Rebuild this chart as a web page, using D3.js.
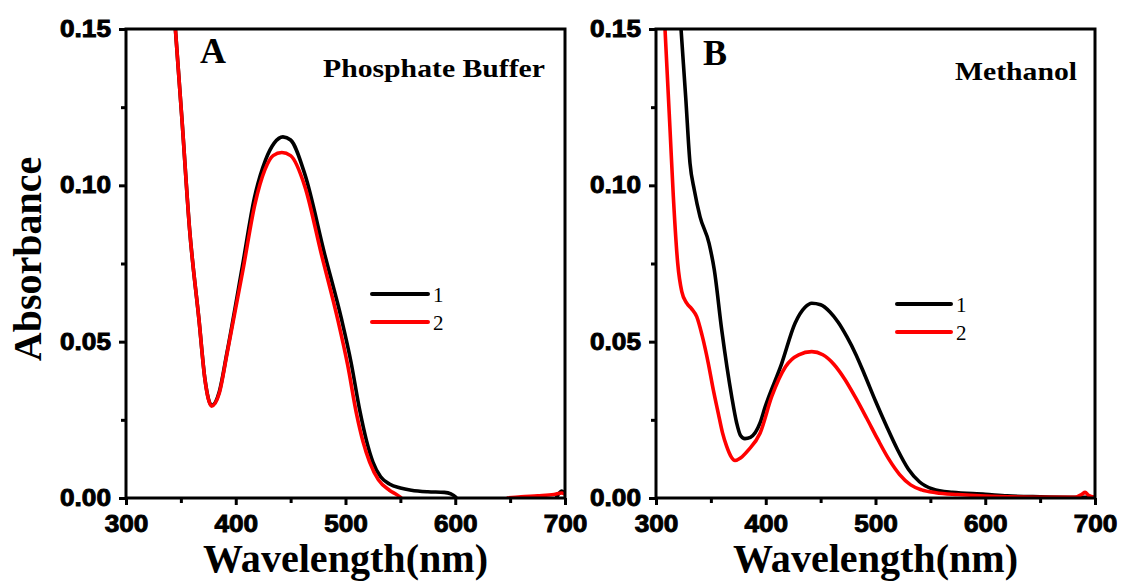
<!DOCTYPE html>
<html><head><meta charset="utf-8">
<script src="https://cdn.jsdelivr.net/npm/d3@7"></script>
<style>body{margin:0;background:#fff}svg{display:block}</style>
</head><body>
<svg id="chart" width="1122" height="583"></svg>
<script>
// ---- data ----
const panelLabels = ["A", "B"];
const solventLabels = ["Phosphate Buffer", "Methanol"];
const seriesNames = ["1", "2"];
const seriesColors = ["#000000", "#ff0000"];
const xTicks = [300, 400, 500, 600, 700];
const xMinorTicks = [350, 450, 550, 650];
const yTicks = [0.00, 0.05, 0.10, 0.15];
const yMinorTicks = [0.025, 0.075, 0.125];

// Panel A, curve 1 (black)
const aWl1 = [342,345,351,358,366.5,372,378,385,392,406,417,427,435,443,450,463,481,496.5,505,513,519,525,532,540,550,560,575,590,596,600,601,null,692,697,700];
const aAbs1 = [0.165,0.150,0.121,0.0857,0.057,0.0378,0.0296,0.034,0.0465,0.074,0.096,0.108,0.1135,0.1155,0.1145,0.1035,0.078,0.057,0.0435,0.028,0.0185,0.0115,0.0068,0.0045,0.0032,0.0025,0.002,0.0018,0.0013,0.0004,0,null,0,0.0022,0.0015];
// Panel A, curve 2 (red)
const aWl2 = [342,345,351,358,366.5,372,378,385,392,406.6,417.5,426.6,434,442,450,463,478,493,502,510,516,522,530,540,547,551,null,647,660,675,690,697,700];
const aAbs2 = [0.165,0.150,0.121,0.0857,0.057,0.0377,0.0294,0.0335,0.046,0.073,0.094,0.105,0.1095,0.1105,0.1095,0.0996,0.078,0.057,0.0425,0.027,0.018,0.0115,0.0058,0.0025,0.001,0,null,0,0.0004,0.0007,0.0011,0.0016,0.0012];
// Panel B, curve 1 (black)
const bWl1 = [320,322.8,327.1,331,334.9,340.1,348.3,353.1,359.9,369,373.5,377,381,386,394.8,399.3,414.5,426.7,435.8,441.9,450,458.5,466,474,482,490,500,510,520,530,540,552,570,600,620,650,700];
const bAbs1 = [0.165,0.150,0.128,0.107,0.0985,0.090,0.0815,0.073,0.0537,0.0324,0.024,0.020,0.019,0.0194,0.024,0.029,0.043,0.0559,0.061,0.0623,0.0618,0.0595,0.0562,0.0515,0.046,0.0395,0.031,0.023,0.0155,0.0092,0.0052,0.0029,0.0018,0.0012,0.0007,0.0004,0.0002];
// Panel B, curve 2 (red)
const bWl2 = [306,308.2,312.8,315.8,319.8,323.5,328,332.5,337.1,342,347.7,352,356.8,360.5,364.4,368,372,377,384.1,394.8,405.4,418,430,441.9,452,462,472,482,492,502,512,522,532,542,555,575,600,630,660,682,688,691,694,700];
const bAbs2 = [0.165,0.150,0.1177,0.0964,0.075,0.066,0.0623,0.0605,0.058,0.052,0.043,0.035,0.027,0.021,0.0165,0.0135,0.012,0.0128,0.0153,0.0207,0.0324,0.042,0.0458,0.0468,0.0458,0.0428,0.038,0.032,0.0255,0.0188,0.0125,0.0075,0.0042,0.0026,0.0017,0.0011,0.0006,0.0003,0.0002,0.0002,0.0012,0.0018,0.0009,0.0002];

const panels = [
  {wl: [aWl1, aWl2], abs: [aAbs1, aAbs2], left: 126, right: 565, label: {x: 200, y: 63}, solvent: {x: 323, y: 77, len: 222}, legend: {x1: 372, x2: 428, y: 294, dy: 28}, showY: true},
  {wl: [bWl1, bWl2], abs: [bAbs1, bAbs2], left: 656, right: 1095, label: {x: 703, y: 65}, solvent: {x: 955, y: 80, len: 122}, legend: {x1: 897, x2: 951, y: 304, dy: 28}, showY: false}
];
const plotTop = 29, plotBottom = 498;

const svg = d3.select("#chart");
const sansBold = "'Liberation Sans', Arial, sans-serif";
const serif = "'Liberation Serif', 'Times New Roman', serif";

function stretch(sel, f) {
  sel.each(function() {
    const l = this.getComputedTextLength();
    d3.select(this).attr("textLength", l * f).attr("lengthAdjust", "spacingAndGlyphs");
  });
}

panels.forEach((p, pi) => {
  const x = d3.scaleLinear().domain([300, 700]).range([p.left, p.right]);
  const y = d3.scaleLinear().domain([0, 0.15]).range([plotBottom, plotTop]);
  const g = svg.append("g");

  const clipId = "clip" + pi;
  svg.append("clipPath").attr("id", clipId).append("rect")
    .attr("x", p.left).attr("y", plotTop).attr("width", p.right - p.left).attr("height", plotBottom - plotTop);

  const line = d3.line()
    .defined(d => d[0] !== null && d[1] !== null)
    .x(d => x(d[0])).y(d => y(d[1]))
    .curve(d3.curveMonotoneX);
  p.wl.forEach((wl, si) => {
    const data = wl.map((w, i) => [w, p.abs[si][i]]);
    g.append("path").datum(data)
      .attr("clip-path", `url(#${clipId})`)
      .attr("fill", "none").attr("stroke", seriesColors[si])
      .attr("stroke-width", 3.6).attr("stroke-linejoin", "round")
      .attr("d", line);
  });

  const yAx = g.append("g").attr("transform", `translate(${p.left},0)`)
    .call(d3.axisLeft(y).tickValues(yTicks).tickSize(7).tickPadding(8).tickFormat(d3.format(".2f")));
  const yMin = g.append("g").attr("transform", `translate(${p.left},0)`)
    .call(d3.axisLeft(y).tickValues(yMinorTicks).tickSize(5).tickFormat(""));
  const xAx = g.append("g").attr("transform", `translate(0,${plotBottom})`)
    .call(d3.axisBottom(x).tickValues(xTicks).tickSize(7).tickPadding(11).tickFormat(d3.format("d")));
  const xMin = g.append("g").attr("transform", `translate(0,${plotBottom})`)
    .call(d3.axisBottom(x).tickValues(xMinorTicks).tickSize(5).tickFormat(""));
  [yAx, yMin, xAx, xMin].forEach(a => {
    a.select(".domain").remove();
    a.selectAll("line").attr("stroke", "#000").attr("stroke-width", 3);
    a.selectAll("text").attr("font-family", sansBold).attr("font-weight", "bold").attr("font-size", 23)
      .attr("fill", "#000").attr("stroke", "#000").attr("stroke-width", 0.9);
  });
  stretch(yAx.selectAll("text"), 1.14);
  stretch(xAx.selectAll("text"), 1.14);

  g.append("rect").attr("x", p.left).attr("y", plotTop).attr("width", p.right - p.left).attr("height", plotBottom - plotTop)
    .attr("fill", "none").attr("stroke", "#000").attr("stroke-width", 3);

  g.append("text").attr("x", p.label.x).attr("y", p.label.y)
    .attr("font-family", serif).attr("font-weight", "bold").attr("font-size", 36)
    .text(panelLabels[pi]);
  g.append("text").attr("x", p.solvent.x).attr("y", p.solvent.y)
    .attr("font-family", serif).attr("font-weight", "bold").attr("font-size", 26)
    .attr("textLength", p.solvent.len).attr("lengthAdjust", "spacingAndGlyphs")
    .text(solventLabels[pi]);

  seriesNames.forEach((nm, si) => {
    const ly = p.legend.y + si * p.legend.dy;
    g.append("line").attr("x1", p.legend.x1).attr("x2", p.legend.x2).attr("y1", ly).attr("y2", ly)
      .attr("stroke", seriesColors[si]).attr("stroke-width", 4).attr("stroke-linecap", "round");
    g.append("text").attr("x", p.legend.x2 + 5).attr("y", ly + 8)
      .attr("font-family", serif).attr("font-size", 21).text(nm);
  });

  g.append("text").attr("x", (p.left + p.right) / 2).attr("y", 572)
    .attr("text-anchor", "middle").attr("font-family", serif).attr("font-weight", "bold").attr("font-size", 40)
    .attr("textLength", 285).attr("lengthAdjust", "spacingAndGlyphs")
    .text("Wavelength(nm)");

  if (p.showY) {
    g.append("text").attr("transform", `translate(41,259) rotate(-90)`)
      .attr("text-anchor", "middle").attr("font-family", serif).attr("font-weight", "bold").attr("font-size", 40)
      .text("Absorbance");
  }
});
</script>
</body></html>
